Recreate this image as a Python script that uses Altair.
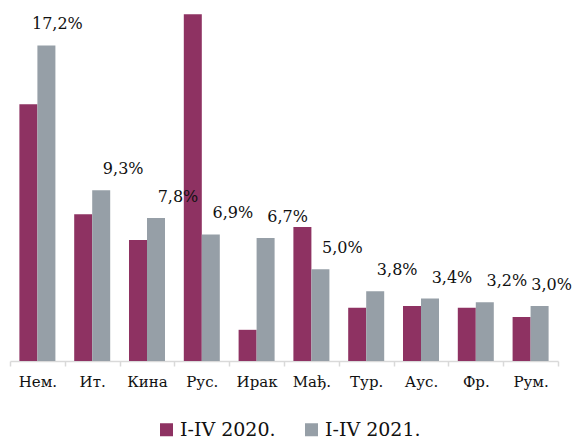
import altair as alt
import pandas as pd

countries = ["Нем.", "Ит.", "Кина", "Рус.", "Ирак", "Мађ.", "Тур.", "Аус.", "Фр.", "Рум."]
series = ["I-IV 2020.", "I-IV 2021."]
v2020 = [14.0, 8.0, 6.6, 18.9, 1.7, 7.3, 2.9, 3.0, 2.9, 2.4]
v2021 = [17.2, 9.3, 7.8, 6.9, 6.7, 5.0, 3.8, 3.4, 3.2, 3.0]
colors = ["#8E3262", "#969FA7"]

rows = []
for c, a, b in zip(countries, v2020, v2021):
    rows.append({"country": c, "series": series[0], "value": a, "label": ""})
    rows.append({"country": c, "series": series[1], "value": b,
                 "label": f"{b:.1f}".replace(".", ",") + "%"})
df = pd.DataFrame(rows)

FONT = "DejaVu Serif"

x = alt.X("country:N", sort=countries,
          scale=alt.Scale(paddingInner=0, paddingOuter=0),
          axis=alt.Axis(title=None, labelAngle=0, labelFont=FONT, labelFontSize=15,
                        labelColor="#111111", labelPadding=8, domainColor="#D9D9D9",
                        domainWidth=1.5, tickColor="#D9D9D9", tickWidth=1.5, tickSize=5,
                        tickBand="extent", grid=False))
xo = alt.XOffset("series:N", sort=series,
                 scale=alt.Scale(domain=series, paddingOuter=0.522, paddingInner=0))
y = alt.Y("value:Q", scale=alt.Scale(domain=[0, 19.24], nice=False, zero=True), axis=None)

bars = alt.Chart(df).mark_bar().encode(
    x=x, xOffset=xo, y=y,
    color=alt.Color("series:N", sort=series,
                    scale=alt.Scale(domain=series, range=colors),
                    legend=alt.Legend(title=None, orient="none", legendX=147, legendY=412,
                                      direction="horizontal", symbolType="square",
                                      symbolSize=169, symbolStrokeWidth=0,
                                      labelFont=FONT, labelFontSize=19, labelColor="#111111",
                                      labelOffset=4, columnPadding=26, padding=0)),
)

base_txt = alt.Chart(df).transform_filter(alt.datum.series == series[1])

def lbl(dx, flt):
    return base_txt.transform_filter(flt).mark_text(
        font=FONT, fontSize=16, color="#111111", baseline="middle", dx=dx, dy=-21
    ).encode(x=x, xOffset=xo, y=y, text="label:N")

t_main = lbl(22, (alt.datum.country != "Нем.") & (alt.datum.country != "Рум."))
t_nem = lbl(11, alt.datum.country == "Нем.")
t_rum = lbl(12, alt.datum.country == "Рум.")

chart = alt.layer(bars, t_main, t_nem, t_rum).properties(
    width=548, height=353,
    autosize=alt.AutoSizeParams(type="none"),
    padding={"left": 2, "right": 14, "top": 0, "bottom": 80},
).configure_view(stroke=None)

chart.save("out.html", embed_options={"renderer": "svg", "actions": False})
